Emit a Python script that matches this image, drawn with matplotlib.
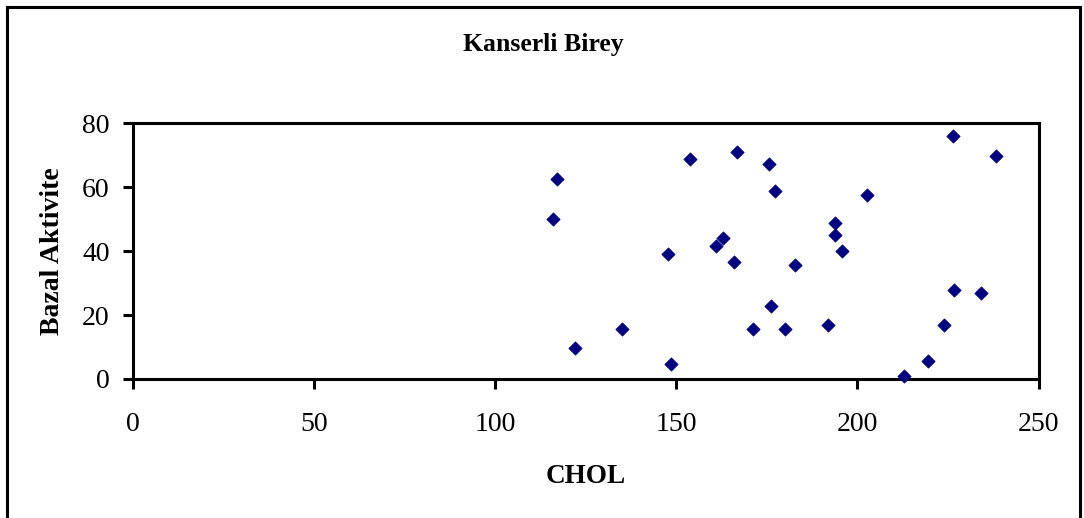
import matplotlib
matplotlib.use("Agg")
import matplotlib.pyplot as plt
from matplotlib.patches import Rectangle

chol = [117.1, 116.0, 153.7, 166.8, 175.6, 177.1, 162.9, 160.9, 147.8, 165.9,
        182.8, 176.0, 135.1, 171.2, 180.0, 122.0, 148.4,
        226.3, 238.2, 202.5, 193.7, 193.7, 195.6, 226.8, 234.1, 191.8, 223.8,
        219.6, 212.8]
bazal = [62.7, 50.0, 68.7, 71.0, 67.2, 58.8, 44.0, 41.6, 39.0, 36.6,
         35.7, 22.9, 15.6, 15.6, 15.6, 9.7, 4.6,
         76.0, 69.9, 57.7, 48.9, 45.0, 40.1, 27.8, 26.8, 16.8, 16.8,
         5.7, 0.9]
x_ticks = [0, 50, 100, 150, 200, 250]
y_ticks = [0, 20, 40, 60, 80]

plt.rcParams['font.family'] = ['Liberation Serif', 'DejaVu Serif']

W, H = 1084, 518
fig = plt.figure(figsize=(W / 100, H / 100), dpi=100)
ax = fig.add_axes([133.3 / W, 1 - 379 / H, (1038.5 - 133.3) / W, (379 - 123.3) / H])

ax.scatter(chol, bazal, marker='D', s=46, color='#000080', edgecolors='#000080',
           linewidths=0.5, zorder=3, clip_on=False)
ax.set_xlim(0, 250)
ax.set_ylim(0, 80)
ax.set_xticks(x_ticks)
ax.set_yticks(y_ticks)
for s in ax.spines.values():
    s.set_linewidth(2.2)
ax.tick_params(direction='out', length=7, width=2.2, labelsize=20)
ax.tick_params(axis='y', pad=10)
ax.tick_params(axis='x', pad=17)

ax.set_xlabel('CHOL', fontsize=19.5, fontweight='bold', labelpad=19)
ax.set_ylabel('Bazal Aktivite', fontsize=20, fontweight='bold', labelpad=12)
fig.text(543 / W, 1 - 45 / H, 'Kanserli Birey', fontsize=18.5, fontweight='bold',
         ha='center', va='center')

fig.patches.append(Rectangle((7 / W, -0.05), (1080 - 7) / W, 1.05 - 7 / H,
                             transform=fig.transFigure, fill=False,
                             edgecolor='black', linewidth=2.2))

fig.savefig('out.png', dpi=100)
